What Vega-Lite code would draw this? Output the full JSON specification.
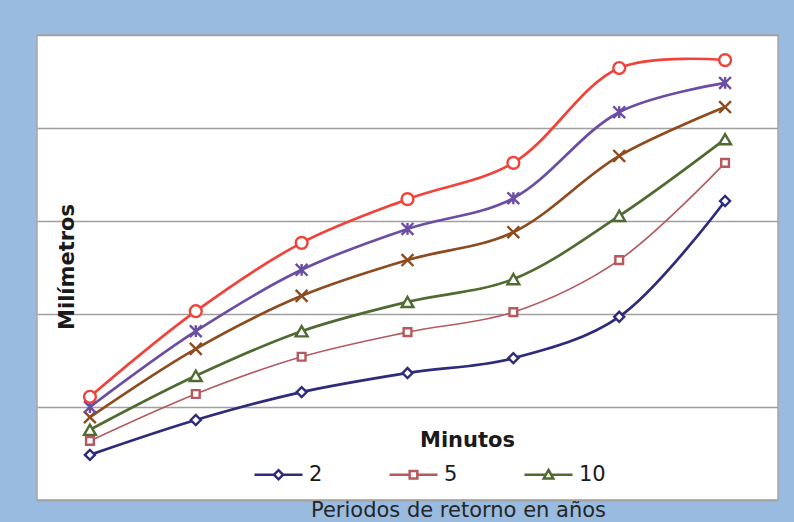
{
  "$schema": "https://vega.github.io/schema/vega-lite/v6.json",
  "width": 741,
  "height": 465,
  "autosize": {"type": "none"},
  "padding": {"left": 37, "top": 35, "right": 16, "bottom": 22},
  "background": "#99BBDF",
  "config": {"view": {"fill": "white", "stroke": "#A6A6A6", "strokeWidth": 1.5}, "font": "DejaVu Sans"},
  "title": {"text": "Periodos de retorno en años", "orient": "bottom", "anchor": "middle", "frame": "group", "font": "DejaVu Sans", "fontSize": 21, "fontWeight": "normal", "color": "#262626", "baseline": "alphabetic", "offset": 17, "dx": 51},
  "data": {"values": [
    {"m": "5", "s": "2", "v": 9.7}, {"m": "10", "s": "2", "v": 17.2}, {"m": "15", "s": "2", "v": 23.2}, {"m": "20", "s": "2", "v": 27.3}, {"m": "30", "s": "2", "v": 30.5}, {"m": "60", "s": "2", "v": 39.4}, {"m": "120", "s": "2", "v": 64.3},
    {"m": "5", "s": "5", "v": 12.7}, {"m": "10", "s": "5", "v": 22.8}, {"m": "15", "s": "5", "v": 30.8}, {"m": "20", "s": "5", "v": 36.1}, {"m": "30", "s": "5", "v": 40.4}, {"m": "60", "s": "5", "v": 51.6}, {"m": "120", "s": "5", "v": 72.5},
    {"m": "5", "s": "10", "v": 15.1}, {"m": "10", "s": "10", "v": 26.7}, {"m": "15", "s": "10", "v": 36.3}, {"m": "20", "s": "10", "v": 42.6}, {"m": "30", "s": "10", "v": 47.5}, {"m": "60", "s": "10", "v": 61.1}, {"m": "120", "s": "10", "v": 77.6},
    {"m": "5", "s": "25", "v": 17.8}, {"m": "10", "s": "25", "v": 32.5}, {"m": "15", "s": "25", "v": 43.9}, {"m": "20", "s": "25", "v": 51.6}, {"m": "30", "s": "25", "v": 57.6}, {"m": "60", "s": "25", "v": 74.0}, {"m": "120", "s": "25", "v": 84.5},
    {"m": "5", "s": "50", "v": 20.0}, {"m": "10", "s": "50", "v": 36.3}, {"m": "15", "s": "50", "v": 49.5}, {"m": "20", "s": "50", "v": 58.3}, {"m": "30", "s": "50", "v": 64.9}, {"m": "60", "s": "50", "v": 83.4}, {"m": "120", "s": "50", "v": 89.7},
    {"m": "5", "s": "100", "v": 22.2}, {"m": "10", "s": "100", "v": 40.6}, {"m": "15", "s": "100", "v": 55.3}, {"m": "20", "s": "100", "v": 64.7}, {"m": "30", "s": "100", "v": 72.5}, {"m": "60", "s": "100", "v": 92.9}, {"m": "120", "s": "100", "v": 94.6}
  ]},
  "encoding": {
    "x": {"field": "m", "type": "ordinal", "scale": {"type": "point", "domain": ["5", "10", "15", "20", "30", "60", "120"], "padding": 0.5},
      "axis": {"labels": false, "ticks": false, "domain": false, "grid": false, "title": "Minutos", "titleFont": "DejaVu Sans", "titleFontSize": 21, "titleFontWeight": "bold", "titleColor": "#1a1a1a", "titleX": 430, "titleY": -54, "titleAlign": "center", "titleBaseline": "alphabetic"}},
    "y": {"field": "v", "type": "quantitative", "scale": {"domain": [0, 100], "nice": false},
      "axis": {"values": [0, 20, 40, 60, 80, 100], "labels": false, "ticks": false, "domain": false, "grid": true, "gridColor": "#A0A0A0", "gridWidth": 1.3, "title": "Milímetros", "titleFont": "DejaVu Sans", "titleFontSize": 21, "titleFontWeight": "bold", "titleAngle": 270, "titleX": 36, "titleY": 231.5, "titleAlign": "center", "titleBaseline": "alphabetic", "titleColor": "#1a1a1a"}}
  },
  "layer": [
    {
      "mark": {"type": "line", "interpolate": "catmull-rom"},
      "encoding": {
        "color": {"field": "s", "type": "nominal", "scale": {"domain": ["2", "5", "10", "25", "50", "100"], "range": ["#2E2B7B", "#B5595E", "#4F6B32", "#8E4B1F", "#6B4DA3", "#F0433A"]}, "legend": null},
        "strokeWidth": {"condition": {"test": "datum.s === '5'", "value": 1.6}, "value": 2.7}
      }
    },
    {
      "mark": {"type": "point", "filled": false, "fill": "white", "fillOpacity": 1, "opacity": 1, "strokeWidth": 2.4},
      "encoding": {
        "stroke": {"field": "s", "type": "nominal", "scale": {"domain": ["2", "5", "10", "25", "50", "100"], "range": ["#2E2B7B", "#B5595E", "#4F6B32", "#8E4B1F", "#6B4DA3", "#F0433A"]}, "legend": null},
        "shape": {"field": "s", "type": "nominal", "scale": {"domain": ["2", "5", "10", "25", "50", "100"], "range": ["diamond", "square", "triangle-up", "M-1,-1L1,1M-1,1L1,-1", "M-1,-1L1,1M-1,1L1,-1M0,-1V1", "circle"]}, "legend": null},
        "size": {"condition": [{"test": "datum.s === '5'", "value": 60}, {"test": "datum.s === '2'", "value": 100}], "value": 140}
      }
    },
    {
      "mark": {"type": "point", "filled": false, "opacity": 0},
      "encoding": {
        "stroke": {"field": "s", "type": "nominal", "scale": {"domain": ["2", "5", "10", "25", "50", "100"], "range": ["#2E2B7B", "#B5595E", "#4F6B32", "#8E4B1F", "#6B4DA3", "#F0433A"]},
          "legend": {"orient": "none", "legendX": 216, "legendY": 414, "title": null, "values": ["2", "5", "10"], "columns": 3, "columnPadding": 61, "symbolSize": 2304, "symbolStrokeWidth": 2.5, "symbolOpacity": 1, "labelFont": "DejaVu Sans", "labelFontSize": 21, "labelColor": "#1a1a1a", "labelOffset": 5, "padding": 0}},
        "shape": {"field": "s", "type": "nominal", "scale": {"domain": ["2", "5", "10", "25", "50", "100"], "range": ["M-1,0H-0.19M0.19,0H1M0,-0.19L0.19,0L0,0.19L-0.19,0Z", "M-1,0H-0.16M0.16,0H1M-0.16,-0.16H0.16V0.16H-0.16Z", "M-1,0H-0.11M0.11,0H1M0,-0.2L0.2,0.16H-0.2Z", "M-1,0H1", "M-1,0H1", "M-1,0H1"]},
          "legend": {"orient": "none", "legendX": 216, "legendY": 414, "title": null, "values": ["2", "5", "10"], "columns": 3, "columnPadding": 61, "symbolSize": 2304, "symbolStrokeWidth": 2.5, "symbolOpacity": 1, "labelFont": "DejaVu Sans", "labelFontSize": 21, "labelColor": "#1a1a1a", "labelOffset": 5, "padding": 0}}
      }
    }
  ],
  "resolve": {"scale": {"stroke": "independent", "shape": "independent"}, "legend": {"stroke": "independent", "shape": "independent"}}
}
